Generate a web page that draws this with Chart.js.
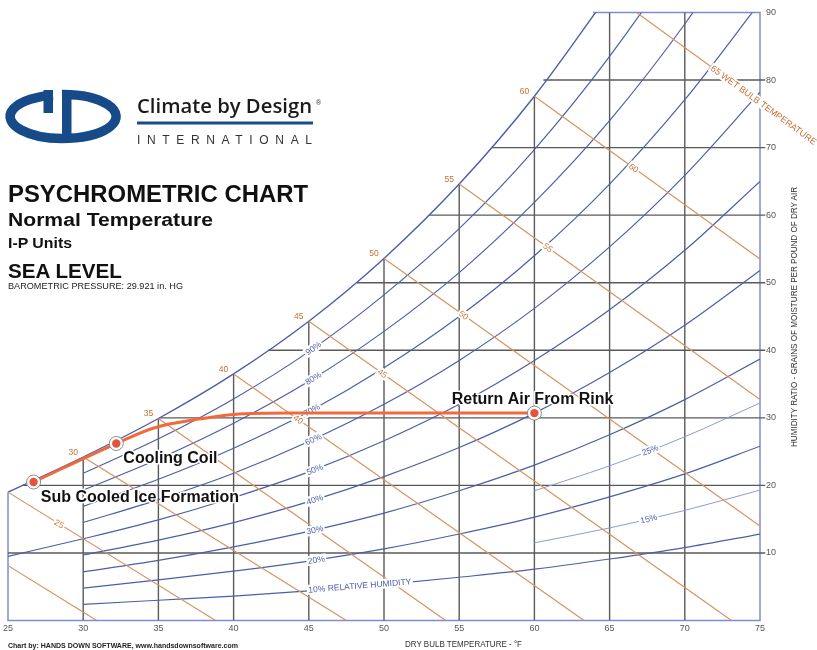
<!DOCTYPE html>
<html>
<head>
<meta charset="utf-8">
<title>Psychrometric Chart</title>
<script src="https://cdn.jsdelivr.net/npm/chart.js@4.4.1/dist/chart.umd.min.js"></script>
<style>
  body { margin: 0; background: #fff; }
  #wrap { position: relative; width: 817px; height: 650px; }
  #wrap svg { position: absolute; left: 0; top: 0; }
</style>
</head>
<body>
<div id="wrap">
  <canvas id="psyChart"></canvas>
  <svg width="817" height="650" xmlns="http://www.w3.org/2000/svg" font-family="'Liberation Sans', Arial, sans-serif">
    <path d="M53,94.9 A53,22 0 1,0 62,94.5" fill="none" stroke="#174a88" stroke-width="9.5"/>
    <rect x="43.5" y="90" width="9.5" height="23" fill="#174a88"/>
    <rect x="62" y="90" width="9.5" height="48" fill="#174a88"/>
    <text x="137" y="113" font-family="'Open Sans', sans-serif" font-weight="600" font-size="19" textLength="175" lengthAdjust="spacingAndGlyphs" fill="#1a1a1a">Climate by Design</text>
    <text x="316" y="105" font-size="7" fill="#333">®</text>
    <rect x="137" y="121.5" width="176" height="3" fill="#174a88"/>
    <text x="137" y="143.5" font-size="12" textLength="175" fill="#333">INTERNATIONAL</text>

    <text x="8" y="202" font-weight="bold" font-size="23" textLength="300" lengthAdjust="spacingAndGlyphs" fill="#111">PSYCHROMETRIC CHART</text>
    <text x="8" y="226" font-weight="bold" font-size="18" textLength="205" lengthAdjust="spacingAndGlyphs" fill="#111">Normal Temperature</text>
    <text x="8" y="248" font-weight="bold" font-size="15" textLength="64" lengthAdjust="spacingAndGlyphs" fill="#111">I-P Units</text>
    <text x="8" y="278" font-weight="bold" font-size="21" textLength="114" lengthAdjust="spacingAndGlyphs" fill="#111">SEA LEVEL</text>
    <text x="8" y="289" font-size="9" textLength="175" lengthAdjust="spacingAndGlyphs" fill="#222">BAROMETRIC PRESSURE: 29.921 in. HG</text>

    <text x="8" y="647.5" font-weight="bold" font-size="7.5" textLength="230" lengthAdjust="spacingAndGlyphs" fill="#222">Chart by: HANDS DOWN SOFTWARE, www.handsdownsoftware.com</text>
    <text x="405" y="647" font-size="9" textLength="117" lengthAdjust="spacingAndGlyphs" fill="#333">DRY BULB TEMPERATURE - °F</text>
    <text transform="translate(797,447) rotate(-90)" font-size="9" textLength="260" lengthAdjust="spacingAndGlyphs" fill="#333">HUMIDITY RATIO - GRAINS OF MOISTURE PER POUND OF DRY AIR</text>
  </svg>
</div>
<script>
// dry bulb temperatures (°F) and humidity ratio (grains/lb)
const dryBulb = [25, 30, 35, 40, 45, 50, 55, 60, 65, 70, 75];
const satGrains = [19.0, 24.2, 29.9, 36.5, 44.3, 53.6, 64.6, 77.6, 92.9, null, null];
const rh90 = [null, 21.8, 26.9, 32.8, 39.8, 48.2, 58.0, 69.7, 83.5, 99.6, 118.3];
const rh80 = [null, 19.3, 23.9, 29.2, 35.4, 42.8, 51.5, 61.9, 74.0, 88.3, 104.9];
const rh70 = [null, 16.9, 20.9, 25.5, 30.9, 37.4, 45.0, 54.0, 64.6, 77.1, 91.5];
const rh60 = [null, 14.5, 17.9, 21.8, 26.5, 32.0, 38.5, 46.2, 55.3, 65.9, 78.2];
const rh50 = [9.5, 12.1, 14.9, 18.2, 22.0, 26.6, 32.0, 38.5, 46.0, 54.8, 65.0];
const rh40 = [null, 9.7, 11.9, 14.5, 17.6, 21.3, 25.6, 30.7, 36.7, 43.7, 51.8];
const rh30 = [null, 7.2, 8.9, 10.9, 13.2, 15.9, 19.2, 23.0, 27.5, 32.7, 38.7];
const rh20 = [null, 4.8, 6.0, 7.3, 8.8, 10.6, 12.8, 15.3, 18.3, 21.7, 25.8];
const rh10 = [null, 2.4, 3.0, 3.6, 4.4, 5.3, 6.4, 7.6, 9.1, 10.8, 12.8];
const rh25 = [null, null, null, null, null, null, null, 19.2, 22.9, 27.2, 32.2];
const rh15 = [null, null, null, null, null, null, null, 11.5, 13.7, 16.3, 19.3];

// wet bulb lines: start on saturation, end at 0 grains or at the 75°F edge
const wetBulb = [20, 25, 30, 35, 40, 45, 50, 55, 60, 65];
const wbSatGrains = [15.0, 19.0, 24.2, 29.9, 36.5, 44.3, 53.6, 64.6, 77.6, 92.9];
const wbEndTemp = [30.9, 38.8, 47.5, 54.1, 63.3, 73.1, 75, 75, 75, 75];
const wbEndGrains = [0, 0, 0, 0, 0, 0, 14.0, 32.7, 53.5, 76.7];

// grid lines
const dbLines = [30, 35, 40, 45, 50, 55, 60, 65, 70];
const dbLineTop = [24.2, 29.9, 36.5, 44.3, 53.6, 64.6, 77.6, 90, 90];
const grainLines = [10, 20, 30, 40, 50, 60, 70, 80];
const grainLineStart = [25, 25.95, 35.05, 42.3, 48.2, 53.0, 57.2, 60.6];
const frameTemp = [25, 25, 75, 75, 63.9];
const frameGrains = [19.0, 0, 0, 90, 90];

// process
const processTemp = [26.7, 32.2, 34.7, 37.8, 40.0, 44.0, 60.0];
const processGrains = [20.5, 26.2, 28.5, 29.85, 30.5, 30.7, 30.7];
const stateTemp = [26.7, 32.2, 60.0];
const stateGrains = [20.5, 26.2, 30.7];
const stateNames = ['Sub Cooled Ice Formation', 'Cooling Coil', 'Return Air From Rink'];

const xTicks = [25, 30, 35, 40, 45, 50, 55, 60, 65, 70, 75];
const yTicks = [10, 20, 30, 40, 50, 60, 70, 80, 90];

const BLUE = '#4c5fa6';
const BLUE_LIGHT = '#8d9bd2';
const FRAME = '#7d8ec9';
const GRID = '#5a5a5a';
const WB = '#d69460';
const WB_TEXT = '#c27235';
const PROCESS = '#f26a3b';
const FONT = '"Liberation Sans", Arial, sans-serif';

function pts(xs, ys) {
  return xs.map((x, i) => ({ x: x, y: ys[i] })).filter(p => p.y !== null && p.y !== undefined);
}

function lineSet(points, color, width, extra) {
  return Object.assign({
    data: points, showLine: true, borderColor: color, borderWidth: width,
    pointRadius: 0, fill: false, tension: 0
  }, extra || {});
}

const curve = { cubicInterpolationMode: 'monotone' };

const datasets = [];
// top of the stack first (index 0 is drawn last)
datasets.push({ data: pts(stateTemp, stateGrains), pointRadius: 4.2, backgroundColor: '#e5533a', borderWidth: 0 });
datasets.push({ data: pts(stateTemp, stateGrains), pointRadius: 7, backgroundColor: '#fff', borderColor: '#8a8a8a', borderWidth: 1 });
datasets.push(lineSet(pts(processTemp, processGrains), PROCESS, 3, curve));

wetBulb.forEach((t, i) => {
  datasets.push(lineSet([{ x: t, y: wbSatGrains[i] }, { x: wbEndTemp[i], y: wbEndGrains[i] }], WB, 1.2));
});
[rh10, rh20, rh30, rh40, rh50, rh60, rh70, rh80, rh90].forEach(arr => {
  datasets.push(lineSet(pts(dryBulb, arr), BLUE, 1.2, curve));
});
[rh15, rh25].forEach(arr => {
  datasets.push(lineSet(pts(dryBulb, arr), BLUE_LIGHT, 1, curve));
});
datasets.push(lineSet(pts(dryBulb, satGrains), BLUE, 1.4, curve));
dbLines.forEach((t, i) => {
  datasets.push(lineSet([{ x: t, y: 0 }, { x: t, y: dbLineTop[i] }], GRID, 1.4));
});
grainLines.forEach((g, i) => {
  datasets.push(lineSet([{ x: grainLineStart[i], y: g }, { x: 75.35, y: g }], GRID, 1.4,
    { clip: { left: 0, top: 0, right: 8, bottom: 0 } }));
});
datasets.push(lineSet(pts(frameTemp, frameGrains), FRAME, 1.5, { clip: 2 }));

function interp(xs, ys, t) {
  for (let i = 0; i < xs.length - 1; i++) {
    if (ys[i] == null || ys[i + 1] == null) continue;
    if (t >= xs[i] && t <= xs[i + 1]) {
      return ys[i] + (ys[i + 1] - ys[i]) * (t - xs[i]) / (xs[i + 1] - xs[i]);
    }
  }
  return null;
}

function tag(ctx, text, x, y, angle, color, align) {
  ctx.save();
  ctx.translate(x, y);
  ctx.rotate(angle);
  const w = ctx.measureText(text).width;
  const left = align === 'left' ? 0 : -w / 2;
  ctx.fillStyle = '#fff';
  ctx.fillRect(left - 1.5, -5, w + 3, 10);
  ctx.fillStyle = color;
  ctx.textAlign = 'left';
  ctx.textBaseline = 'middle';
  ctx.fillText(text, left, 0.5);
  ctx.restore();
}

function drawCurveLabels(chart) {
  const ctx = chart.ctx, sx = chart.scales.x, sy = chart.scales.y;
  const px = t => sx.getPixelForValue(t);
  const py = g => sy.getPixelForValue(g);
  ctx.save();
  ctx.font = '8.5px ' + FONT;

  const rhLabels = [
    [rh90, '90%', 45.3], [rh80, '80%', 45.3], [rh70, '70%', 45.2], [rh60, '60%', 45.3],
    [rh50, '50%', 45.4], [rh40, '40%', 45.4], [rh30, '30%', 45.4], [rh20, '20%', 45.5],
    [rh25, '25%', 67.7], [rh15, '15%', 67.6]
  ];
  rhLabels.forEach(([arr, text, t]) => {
    const y = py(interp(dryBulb, arr, t));
    const ang = Math.atan2(py(interp(dryBulb, arr, t + 1)) - py(interp(dryBulb, arr, t - 1)), px(t + 1) - px(t - 1));
    tag(ctx, text, px(t), y, ang, BLUE, 'center');
  });
  {
    const t = 44.97;
    const ang = Math.atan2(py(interp(dryBulb, rh10, t + 2)) - py(interp(dryBulb, rh10, t)), px(t + 2) - px(t));
    tag(ctx, '10% RELATIVE HUMIDITY', px(t), py(interp(dryBulb, rh10, t)) - 1, ang, BLUE, 'left');
  }

  // wet bulb numbers at the saturation curve
  ctx.fillStyle = WB_TEXT;
  ctx.textAlign = 'center';
  ctx.textBaseline = 'middle';
  wetBulb.forEach((t, i) => {
    if (t < 30 || t > 60) return;
    ctx.fillText(String(t), px(t) - 10, py(wbSatGrains[i]) - 4.5);
  });

  // wet bulb numbers along the lines
  const midLabels = [[25, 28.4], [40, 44.3], [45, 49.9], [50, 55.3], [55, 60.9], [60, 66.6]];
  midLabels.forEach(([wb, t]) => {
    const i = wetBulb.indexOf(wb);
    const x0 = px(wetBulb[i]), y0 = py(wbSatGrains[i]);
    const x1 = px(wbEndTemp[i]), y1 = py(wbEndGrains[i]);
    const ang = Math.atan2(y1 - y0, x1 - x0);
    const x = px(t);
    const y = y0 + (y1 - y0) * (x - x0) / (x1 - x0);
    tag(ctx, String(wb), x, y, ang, WB_TEXT, 'center');
  });
  {
    const i = wetBulb.indexOf(65);
    const x0 = px(wetBulb[i]), y0 = py(wbSatGrains[i]);
    const x1 = px(wbEndTemp[i]), y1 = py(wbEndGrains[i]);
    const ang = Math.atan2(y1 - y0, x1 - x0);
    const x = px(71.8);
    const y = y0 + (y1 - y0) * (x - x0) / (x1 - x0);
    ctx.font = '9px ' + FONT;
    tag(ctx, '65 WET BULB TEMPERATURE - °F', x, y, ang, WB_TEXT, 'left');
  }
  ctx.restore();
}

function drawAxisText(chart) {
  const ctx = chart.ctx, sx = chart.scales.x, sy = chart.scales.y;
  ctx.save();
  ctx.font = '9px ' + FONT;
  ctx.fillStyle = '#555';
  ctx.textBaseline = 'middle';
  ctx.textAlign = 'center';
  xTicks.forEach(t => ctx.fillText(String(t), sx.getPixelForValue(t), sy.bottom + 8));
  ctx.textAlign = 'left';
  yTicks.forEach(g => ctx.fillText(String(g), sx.right + 6, sy.getPixelForValue(g)));
  ctx.restore();
}

function drawStateNames(chart) {
  const ctx = chart.ctx, sx = chart.scales.x, sy = chart.scales.y;
  const spots = [[33.77, 18.2], [35.8, 23.9], [59.88, 32.64]];
  ctx.save();
  ctx.font = 'bold 16px ' + FONT;
  ctx.textAlign = 'center';
  ctx.textBaseline = 'middle';
  ctx.lineJoin = 'round';
  stateNames.forEach((name, i) => {
    const x = sx.getPixelForValue(spots[i][0]);
    const y = sy.getPixelForValue(spots[i][1]);
    ctx.strokeStyle = '#fff';
    ctx.lineWidth = 3;
    ctx.strokeText(name, x, y);
    ctx.fillStyle = '#111';
    ctx.fillText(name, x, y);
  });
  ctx.restore();
}

const overlay = {
  id: 'overlay',
  afterDatasetDraw(chart, args) {
    if (args.index === 3) drawCurveLabels(chart);
  },
  afterDraw(chart) {
    drawAxisText(chart);
    drawStateNames(chart);
  }
};

const ctx = document.getElementById('psyChart').getContext('2d');
const psyChart = new Chart(ctx, {
  type: 'scatter',
  data: { datasets: datasets },
  options: {
    responsive: true,
    maintainAspectRatio: false,
    animation: false,
    events: [],
    layout: { padding: { left: 7.5, right: 57, top: 12.5, bottom: 29.5 } },
    scales: {
      x: { type: 'linear', min: 25, max: 75, display: false },
      y: { type: 'linear', min: 0, max: 90, display: false }
    },
    plugins: { legend: { display: false }, tooltip: { enabled: false } }
  },
  plugins: [overlay]
});
</script>
</body>
</html>
